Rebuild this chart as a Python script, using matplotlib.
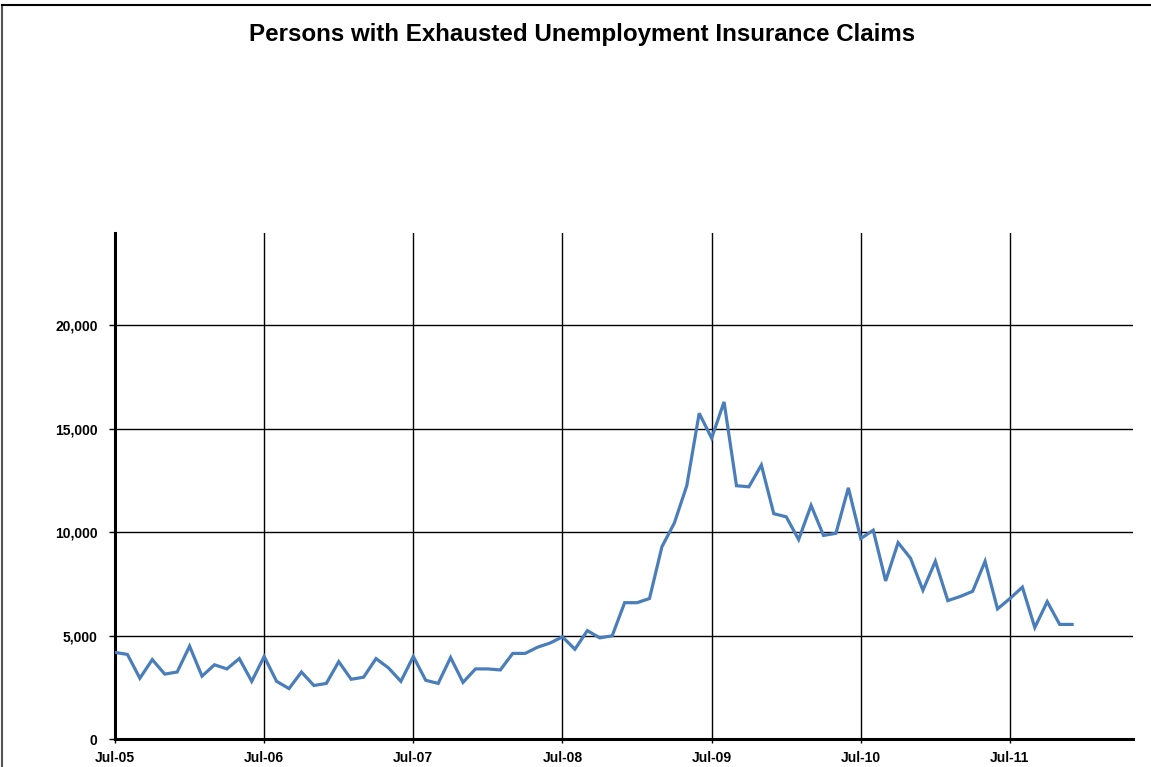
import numpy as np
import matplotlib
matplotlib.use('Agg')
import matplotlib.pyplot as plt
from matplotlib.lines import Line2D

plt.rcParams['font.family'] = ['Liberation Sans', 'DejaVu Sans']

# monthly values, Jul-05 .. Dec-11
months = list(range(78))
exhausted = [4200, 4100, 2950, 3850, 3150, 3250, 4500, 3050, 3600, 3400, 3900, 2800,
             4000, 2800, 2450, 3250, 2600, 2700, 3750, 2900, 3000, 3900, 3450, 2800,
             4000, 2850, 2700, 3950, 2750, 3400, 3400, 3350, 4150, 4150, 4450, 4650,
             4950, 4350, 5250, 4900, 5000, 6600, 6600, 6800, 9300, 10450, 12250, 15750,
             14550, 16300, 12250, 12200, 13250, 10900, 10750, 9650, 11300, 9850, 9950, 12150,
             9700, 10100, 7650, 9500, 8750, 7200, 8600, 6700, 6900, 7150, 8600, 6300,
             6800, 7350, 5400, 6650, 5550, 5550]
xtick_pos = [0, 12, 24, 36, 48, 60, 72]
xtick_labels = ['Jul-05', 'Jul-06', 'Jul-07', 'Jul-08', 'Jul-09', 'Jul-10', 'Jul-11']
ytick_pos = [0, 5000, 10000, 15000, 20000]
title = 'Persons with Exhausted Unemployment Insurance Claims'

fig = plt.figure(figsize=(11.51, 7.67), dpi=100)
ax = fig.add_axes([115 / 1151, 27.7 / 767, 1018 / 1151, 506.3 / 767])

ax.plot(months, exhausted, color='#4a7ebb', lw=2.3, solid_joinstyle='miter', zorder=3)

ax.set_xlim(0, 81.9)
ax.set_ylim(0, 24460)
ax.set_xticks(xtick_pos)
ax.set_xticklabels(xtick_labels)
ax.set_yticks(ytick_pos)
ax.set_yticklabels(['{:,}'.format(v) for v in ytick_pos])

# 网格
ax.grid(True, color='black', lw=1.0, zorder=1)
for s in ['top', 'right']:
    ax.spines[s].set_visible(False)
ax.spines['left'].set_linewidth(2.2)
ax.spines['bottom'].set_linewidth(2.2)
ax.tick_params(axis='y', direction='out', length=4.5, width=1, pad=8, labelsize=10)
ax.tick_params(axis='x', direction='out', length=3, width=1, pad=5.5, labelsize=10)
for lab in ax.get_xticklabels() + ax.get_yticklabels():
    lab.set_fontweight('bold')

fig.text(582.5 / 1151, 1 - 34 / 767, title, ha='center', va='center',
         fontsize=17.4, fontweight='bold')

# frame of the chart area
fig.add_artist(Line2D([2 / 1151, 2 / 1151], [0, 1 - 5 / 767], color='#555555', lw=1.5))
fig.add_artist(Line2D([2 / 1151, 1], [1 - 5 / 767, 1 - 5 / 767], color='black', lw=1.5))

plt.savefig('out.png', dpi=100)
